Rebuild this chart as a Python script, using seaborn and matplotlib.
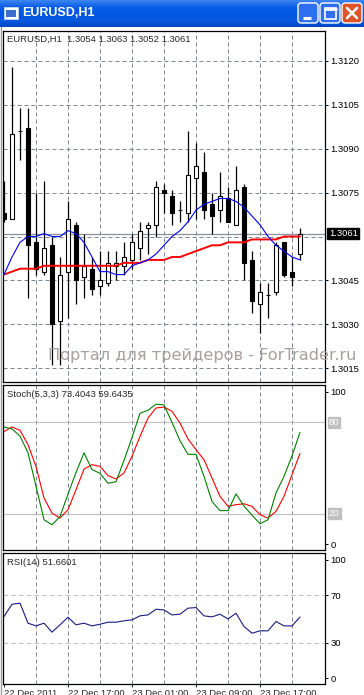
import numpy as np
import matplotlib.pyplot as plt
import seaborn as sns
from matplotlib.patches import FancyBboxPatch, Rectangle
from matplotlib.colors import LinearSegmentedColormap
from matplotlib.transforms import blended_transform_factory

sns.set_style('white')
plt.rcParams['font.family'] = ['Liberation Sans', 'DejaVu Sans']

# EURUSD H1 candles
opens = [1.3068, 1.3066, 1.3096, 1.3097, 1.3058, 1.3048, 1.3057, 1.3031, 1.3048, 1.3064,
         1.3046, 1.3049, 1.3043, 1.3044, 1.3050, 1.3050, 1.3052, 1.3056, 1.3063, 1.3064,
         1.3076, 1.3074, 1.3069, 1.3068, 1.3080, 1.3082, 1.3071, 1.3069, 1.3073, 1.3064,
         1.3077, 1.3052, 1.3037, 1.3040, 1.3041, 1.3058, 1.3048, 1.3054]
highs = [1.3079, 1.3118, 1.3104, 1.3104, 1.3075, 1.3079, 1.3060, 1.3053, 1.3072, 1.3065,
         1.3061, 1.3053, 1.3055, 1.3055, 1.3055, 1.3058, 1.3061, 1.3065, 1.3065, 1.3079,
         1.3078, 1.3076, 1.3072, 1.3096, 1.3092, 1.3089, 1.3075, 1.3082, 1.3077, 1.3084,
         1.3078, 1.3055, 1.3044, 1.3044, 1.3058, 1.3058, 1.3053, 1.3063]
lows = [1.3065, 1.3066, 1.3086, 1.3039, 1.3047, 1.3047, 1.3016, 1.3016, 1.3032, 1.3037,
        1.3039, 1.3040, 1.3040, 1.3043, 1.3045, 1.3047, 1.3049, 1.3052, 1.3054, 1.3060,
        1.3068, 1.3064, 1.3065, 1.3065, 1.3066, 1.3066, 1.3061, 1.3065, 1.3065, 1.3064,
        1.3045, 1.3034, 1.3027, 1.3032, 1.3040, 1.3046, 1.3043, 1.3052]
closes = [1.3066, 1.3095, 1.3096, 1.3057, 1.3049, 1.3056, 1.3030, 1.3047, 1.3066, 1.3045,
          1.3050, 1.3042, 1.3045, 1.3051, 1.3051, 1.3053, 1.3058, 1.3062, 1.3064, 1.3077,
          1.3075, 1.3068, 1.3069, 1.3081, 1.3084, 1.3069, 1.3067, 1.3074, 1.3065, 1.3076,
          1.3051, 1.3038, 1.3041, 1.3040, 1.3057, 1.3047, 1.3046, 1.3061]

# moving averages (blue = fast, red = slow)
ma_fast = [1.3047, 1.3053, 1.3058, 1.3060, 1.3060, 1.3061, 1.3060, 1.3060, 1.3062, 1.3061,
           1.3058, 1.3053, 1.3048, 1.3048, 1.3047, 1.3047, 1.3050, 1.3051, 1.3052, 1.3054,
           1.3057, 1.3060, 1.3062, 1.3065, 1.3069, 1.3071, 1.3072, 1.3073, 1.3073, 1.3072,
           1.3070, 1.3067, 1.3064, 1.3060, 1.3057, 1.3055, 1.3053, 1.3052]
ma_slow = [1.3047, 1.3048, 1.3049, 1.3049, 1.3049, 1.3050, 1.3050, 1.3050, 1.3050, 1.3050,
           1.3050, 1.3050, 1.3050, 1.3050, 1.3050, 1.3051, 1.3051, 1.3051, 1.3052, 1.3052,
           1.3052, 1.3053, 1.3053, 1.3054, 1.3055, 1.3056, 1.3057, 1.3057, 1.3058, 1.3058,
           1.3058, 1.3059, 1.3059, 1.3059, 1.3059, 1.3060, 1.3060, 1.3060]

# Stochastic(5,3,3)
stoch_main = [77, 75.7, 71, 60, 38, 16, 12.7, 18, 33, 47,
              60, 49, 46.5, 40, 41, 55, 70, 86, 88, 92,
              91.5, 80, 68, 59, 59, 44.5, 28, 22, 22, 33,
              25, 19, 13.4, 16, 33.6, 44.5, 58, 73.4]
stoch_signal = [74, 77, 74.8, 65.4, 51, 30.3, 20.4, 17.1, 22.6, 35.7,
                49.3, 52.2, 51.1, 45, 42.8, 46.7, 57.7, 70.8, 82.9, 89.5,
                90.1, 87.3, 79.6, 69.1, 62.1, 55.5, 43.4, 31.4, 24.8, 25.9,
                26.5, 24.8, 19.3, 17.1, 21.5, 31.4, 45.6, 59.6]

# RSI(14)
rsi = [52.1, 62.5, 63.4, 46.5, 44.2, 46.5, 38.9, 45.1, 51.5, 45.1,
       46.5, 44.2, 45.6, 47.3, 47.3, 48.5, 49.3, 52.7, 53.5, 58.3,
       57.7, 53.5, 54.1, 59.2, 59.7, 52.7, 51.8, 54.1, 50.1, 54.9,
       43.7, 38, 40, 40, 47.9, 44.2, 44.2, 51.7]

time_ticks = [0, 8, 16, 24, 32]
time_labels = ['22 Dec 2011', '22 Dec 17:00', '23 Dec 01:00', '23 Dec 09:00', '23 Dec 17:00']
price_ticks = [1.3015, 1.3030, 1.3045, 1.3075, 1.3090, 1.3105, 1.3120]
bid = 1.3061

W, H = 364, 695
GRID = '#778899'


def box(x0, y0, x1, y1):
    return [x0 / W, 1 - y1 / H, (x1 - x0) / W, (y1 - y0) / H]


bars = np.arange(len(opens))
o = np.array(opens)
c = np.array(closes)

fig = plt.figure(figsize=(W / 100, H / 100), dpi=100)
fig.patch.set_facecolor('white')

ax_main = fig.add_axes(box(3, 31, 325, 382))
ax_st = fig.add_axes(box(3, 385, 325, 550))
ax_rsi = fig.add_axes(box(3, 553, 325, 684))

for ax in (ax_main, ax_st, ax_rsi):
    ax.set_xlim(-0.125, 40.125)
    for s in ax.spines.values():
        s.set_color('black')
        s.set_linewidth(0.9)
    for xv in range(4, 37, 4):
        ax.axvline(xv, color=GRID, lw=0.72, ls=(0, (4, 3)), zorder=0)
    ax.yaxis.tick_right()
    ax.tick_params(axis='y', right=True, length=2.5, width=0.7, pad=1.5,
                   labelsize=6.8, colors='black')
    ax.tick_params(axis='x', bottom=False, labelbottom=False)

# --- main price chart ---
ax_main.set_ylim(1.30103, 1.31302)
for p in price_ticks + [1.3060]:
    ax_main.axhline(p, color=GRID, lw=0.72, ls=(0, (4, 3)), zorder=0)
ax_main.set_yticks(price_ticks)
ax_main.set_yticklabels(['%.4f' % p for p in price_ticks])

ax_main.axhline(bid, color='#8a9099', lw=0.9, zorder=1)
ax_main.vlines(bars, lows, highs, color='black', lw=0.9, zorder=2)
body_h = np.maximum(np.abs(c - o), 0.000004)
face = ['white' if cc >= oo else 'black' for oo, cc in zip(o, c)]
ax_main.bar(bars, body_h, bottom=np.minimum(o, c), width=0.62, color=face,
            edgecolor='black', linewidth=0.8, zorder=3)

sns.lineplot(x=bars, y=ma_slow, ax=ax_main, color='red', lw=1.4, zorder=4, legend=False)
sns.lineplot(x=bars, y=ma_fast, ax=ax_main, color='#0000ff', lw=0.8, zorder=5, legend=False)
ax_main.set_xlabel('')
ax_main.set_ylabel('')

tr = blended_transform_factory(ax_main.transAxes, ax_main.transData)
ax_main.text(1.012, bid, '1.3061', transform=tr, va='center', ha='left', color='white',
             fontsize=6.8, bbox=dict(boxstyle='square,pad=0.15', fc='black', ec='black'))
ax_main.text(0.0124, 0.977, 'EURUSD,H1  1.3054 1.3063 1.3052 1.3061',
             transform=ax_main.transAxes, va='center', ha='left', fontsize=6.8)

# --- stochastic ---
ax_st.set_ylim(-3.9, 104.6)
for lv in (20, 80):
    ax_st.axhline(lv, color='#c0c0c0', lw=0.8, zorder=1)
sns.lineplot(x=bars, y=stoch_signal, ax=ax_st, color='red', lw=0.8, legend=False)
sns.lineplot(x=bars, y=stoch_main, ax=ax_st, color='green', lw=0.8, legend=False)
ax_st.set_yticks([0, 100])
ax_st.set_yticklabels(['0', '100'])
trs = blended_transform_factory(ax_st.transAxes, ax_st.transData)
for lv in (20, 80):
    ax_st.text(1.012, lv, str(lv), transform=trs, va='center', ha='left', color='white',
               fontsize=6.8, bbox=dict(boxstyle='square,pad=0.12', fc='#c0c0c0', ec='#c0c0c0'))
ax_st.text(0.0124, 0.94, 'Stoch(5,3,3) 73.4043 59.6435', transform=ax_st.transAxes,
           va='center', ha='left', fontsize=6.8)
ax_st.set_xlabel('')
ax_st.set_ylabel('')

# --- RSI ---
ax_rsi.set_ylim(-5, 105.9)
for lv in (30, 70):
    ax_rsi.axhline(lv, color='#c0c0c0', lw=0.8, ls=(0, (4, 3)), zorder=1)
sns.lineplot(x=bars, y=rsi, ax=ax_rsi, color='#1a1a80', lw=0.8, legend=False)
ax_rsi.set_yticks([0, 30, 70, 100])
ax_rsi.set_yticklabels(['0', '30', '70', '100'])
ax_rsi.text(0.0124, 0.924, 'RSI(14) 51.6601', transform=ax_rsi.transAxes,
            va='center', ha='left', fontsize=6.8)
ax_rsi.set_xticks(time_ticks)
ax_rsi.set_xticklabels(time_labels, ha='left')
ax_rsi.tick_params(axis='x', bottom=True, labelbottom=True, length=2.5, width=0.7,
                   pad=1, labelsize=6.8)
ax_rsi.set_xlabel('')
ax_rsi.set_ylabel('')

# watermark
fig.text(48 / W, 1 - 356 / H, 'Портал для трейдеров - ForTrader.ru', fontsize=11.6,
         color='#a89f9f', va='center', ha='left', family=['DejaVu Sans'])

# window left border
fig.add_artist(plt.Line2D([0.6 / W, 0.6 / W], [0, 1 - 27 / H], transform=fig.transFigure,
                          color='#9a9a9a', lw=1))

# --- XP style title bar ---
ax_t = fig.add_axes([0, 1 - 27 / H, 1, 27 / H])
ax_t.set_axis_off()
cmap = LinearSegmentedColormap.from_list('xp', ['#3b83f0', '#0a5fe6', '#0055e3', '#0a5ae0', '#0047c8'])
ax_t.imshow(np.linspace(0, 1, 27).reshape(-1, 1), aspect='auto', cmap=cmap,
            extent=[0, W, 27, 0])
ax_t.set_xlim(0, W)
ax_t.set_ylim(27, 0)
ax_t.add_patch(Rectangle((4, 7), 14, 12, fc='white', ec='#c8d8f0', lw=0.6))
ax_t.add_patch(Rectangle((6, 10), 10, 7, fc='#3a6fd0', ec='none'))
ax_t.text(22, 13.5, 'EURUSD,H1', color='white', fontsize=9, fontweight='bold',
          va='center', ha='left')
for x0, fc in ((298, '#2f6ff0'), (320, '#2f6ff0'), (342, '#e0542a')):
    ax_t.add_patch(FancyBboxPatch((x0, 3), 20, 20, boxstyle='round,pad=0,rounding_size=3',
                                  fc=fc, ec='white', lw=1))
ax_t.plot([303, 311], [18, 18], color='white', lw=2.2, solid_capstyle='butt')
ax_t.add_patch(Rectangle((324.5, 7.5), 11, 11, fc='none', ec='white', lw=1.2))
ax_t.plot([324.5, 335.5], [8.5, 8.5], color='white', lw=2)
ax_t.plot([347, 357], [8, 18], color='white', lw=1.8)
ax_t.plot([347, 357], [18, 8], color='white', lw=1.8)

fig.savefig('out.png', dpi=100)
